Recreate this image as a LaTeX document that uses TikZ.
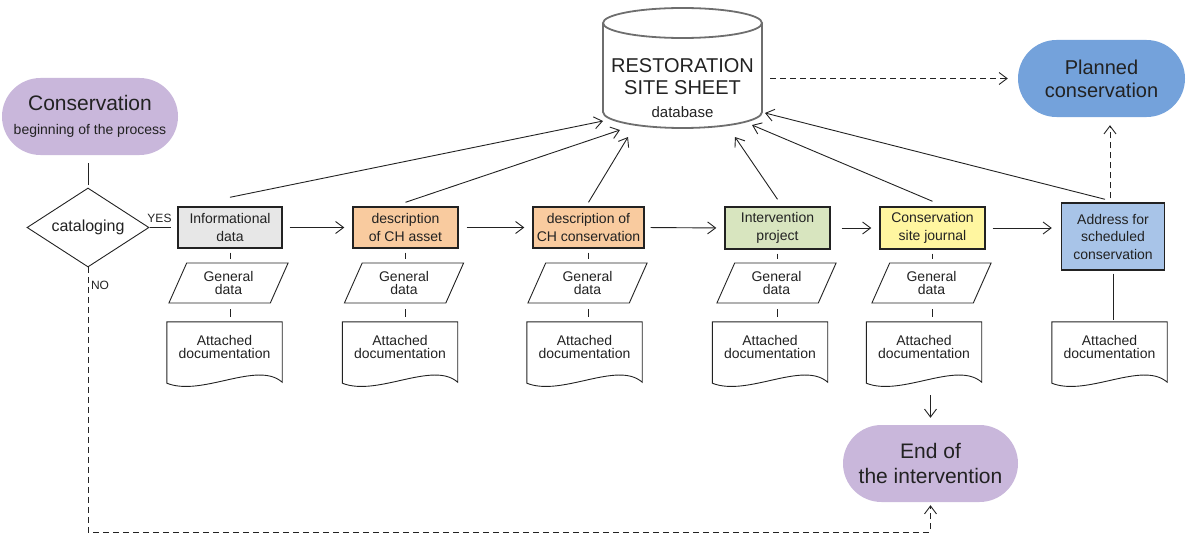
\documentclass[tikz,border=0pt]{standalone}
\usepackage{fontspec}
\setmainfont{Liberation Sans}
\usetikzlibrary{shapes.geometric,shapes.misc,arrows.meta,calc}

\definecolor{txt}{HTML}{222222}
\definecolor{lin}{HTML}{222222}
\definecolor{purp}{HTML}{C9B7DB}
\definecolor{grayf}{HTML}{E7E7E7}
\definecolor{orng}{HTML}{F9CB9F}
\definecolor{grn}{HTML}{D8E5BF}
\definecolor{yel}{HTML}{FFF6A0}
\definecolor{bluel}{HTML}{A8C4E8}
\definecolor{blued}{HTML}{74A2DB}
\definecolor{dbline}{HTML}{6E6E6E}

\newcommand\fs[2]{\fontsize{#1}{#2}\selectfont}
\newcommand\docoutline[1]{%
  \draw[link] (#1.north west) -- (#1.north east) -- ($(#1.south east)+(0,10)$)
    .. controls ($(#1.south east)+(-25,-12)$) and ($(#1.south west)+(35,25)$) ..
    ($(#1.south west)+(0,11)$) -- cycle;}

\begin{document}
\begin{tikzpicture}[x=1pt,y=-1pt,
  font=\fs{14}{18}, text=txt,
  term/.style={rounded rectangle, draw=none, align=center, inner sep=0pt},
  procbox/.style={rectangle, draw=lin, line width=1.4pt, align=center, inner sep=0pt, font=\fs{14}{18}},
  para/.style={trapezium, trapezium left angle=66, trapezium right angle=114, trapezium stretches=true, draw=lin, line width=0.9pt, minimum width=120, minimum height=40, inner sep=0pt, align=center, font=\fs{14}{13.5}},
  docbox/.style={rectangle, minimum width=115, minimum height=50, inner sep=0pt, align=center, font=\fs{14}{13.5}},
  link/.style={draw=lin, line width=0.9pt},
  arr/.style={link, -{Straight Barb[length=8pt,width=12pt]}},
  dasharr/.style={arr, dash pattern=on 6pt off 4pt},
  dbl/.style={draw=dbline, line width=1.8pt},
  lbl/.style={font=\fs{12}{14}, inner sep=0pt},
]
\useasboundingbox (0,0) rectangle (1192,535);

% database cylinder
\draw[dbl] (682.5,23) ellipse [x radius=79.5, y radius=15];
\draw[dbl] (603,23) -- (603,112) arc[start angle=180, end angle=0, x radius=79.5, y radius=16] -- (762,23);
\node[font=\fs{20}{22.5}, align=center, minimum width=159, inner sep=0pt] (db) at (682.5,88)
  {RESTORATION\\SITE SHEET\\{\fs{15}{23}database}};
\coordinate (in1) at (603,121);
\coordinate (in2) at (620,130);
\coordinate (in3) at (628,137);
\coordinate (in4) at (735,137);
\coordinate (in5) at (752,125);
\coordinate (in6) at (765,113);

% terminals
\node[term, fill=purp, minimum width=176, minimum height=77, font=\fs{21}{24}] (s) at (90,116.5)
  {Conservation\\{\fs{14}{17}beginning of the process}};
\node[term, fill=blued, minimum width=167, minimum height=77, font=\fs{20}{23}] (p) at (1101.5,78.5)
  {Planned\\conservation};
\node[term, fill=purp, minimum width=175, minimum height=77, font=\fs{21}{25}] (e) at (930.5,463.5)
  {End of\\the intervention};

% decision
\node[diamond, aspect=1.55, draw=lin, line width=0.9pt, minimum width=122, minimum height=79, inner sep=0pt, font=\fs{16}{18}] (dia) at (88,227.5) {cataloging};

% process boxes
\node[procbox, fill=grayf, minimum width=104, minimum height=41] (b1) at (230,227.5) {Informational\\data};
\node[procbox, fill=orng, minimum width=105, minimum height=41] (b2) at (405.5,227.5) {description\\of CH asset};
\node[procbox, fill=orng, minimum width=111, minimum height=41] (b3) at (588.5,227.5) {description of\\CH conservation};
\node[procbox, fill=grn, minimum width=105, minimum height=42] (b4) at (777.5,228) {Intervention\\project};
\node[procbox, fill=yel, minimum width=105, minimum height=42] (b5) at (932.5,228) {Conservation\\site journal};
\node[procbox, fill=bluel, minimum width=103, minimum height=67, font=\fs{14}{17.5}] (b6) at (1113,236.5) {Address for\\scheduled\\conservation};

% general data
\node[para] (g1) at (228.5,283) {General\\data};
\node[para] (g2) at (404,283) {General\\data};
\node[para] (g3) at (587.5,283) {General\\data};
\node[para] (g4) at (776.5,283) {General\\data};
\node[para] (g5) at (931.5,283) {General\\data};

% documents
\node[docbox] (d1) at (224.5,347) {Attached\\documentation};
\node[docbox] (d2) at (400,347) {Attached\\documentation};
\node[docbox] (d3) at (584.5,347) {Attached\\documentation};
\node[docbox] (d4) at (770,347) {Attached\\documentation};
\node[docbox] (d5) at (924,347) {Attached\\documentation};
\node[docbox] (d6) at (1109.5,347) {Attached\\documentation};
\docoutline{d1}\docoutline{d2}\docoutline{d3}\docoutline{d4}\docoutline{d5}\docoutline{d6}

% labels
\node[lbl] (yes) at (159.5,218) {YES};
\node[lbl] (no) at (100,285) {NO};

% start -> decision
\draw[link, shorten <=8, shorten >=3] (dia.north |- s.south) -- (dia.north);
\draw[link, shorten <=1, shorten >=6] (dia.east) -- (dia.east -| b1.west);

% chain
\draw[arr, shorten <=7, shorten >=8] (b1.east) -- (b2.west);
\draw[arr, shorten <=8, shorten >=8] (b2.east) -- (b3.west);
\draw[arr, shorten <=6, shorten >=8] (b3.east) -- (b4.west);
\draw[arr, shorten <=11, shorten >=8] (b4.east) -- (b4.east -| b5.west);
\draw[arr, shorten <=7, shorten >=9] (b5.east) -- (b5.east -| b6.west);

% vertical ties
\foreach \i in {1,...,5}{
  \draw[link, shorten <=4, shorten >=4] (b\i.south) -- (b\i.south |- g\i.north);
  \draw[link, shorten <=6, shorten >=5] (b\i.south |- g\i.south) -- (b\i.south |- d\i.north);
}
\draw[link, shorten <=3, shorten >=2] (b6.south) -- (b6.south |- d6.north);

% to database
\draw[arr] ([yshift=9pt]b1.north) -- (in1);
\draw[arr] ([yshift=4pt]b2.north) -- (in2);
\draw[arr] ([yshift=4pt]b3.north) -- (in3);
\draw[arr] ([yshift=7pt]b4.north) -- (in4);
\draw[arr] ([yshift=5pt]b5.north) -- (in5);
\draw[arr] ([yshift=3pt,xshift=-8pt]b6.north) -- (in6);

% planned
\draw[dasharr, shorten <=8, shorten >=10] (p.west -| db.east) -- (p.west);
\draw[dasharr, shorten <=4, shorten >=8] ([xshift=-3pt]b6.north) -- ([xshift=-3pt]b6.north |- p.south);

% end
\draw[arr, shorten >=7] ($(d5.south -| e.north)+(0,23)$) -- (e.north);
\coordinate (bot) at (0,532);
\draw[dasharr, shorten >=3] (dia.south) -- (dia.south |- bot) -| (e.south);
\end{tikzpicture}
\end{document}
